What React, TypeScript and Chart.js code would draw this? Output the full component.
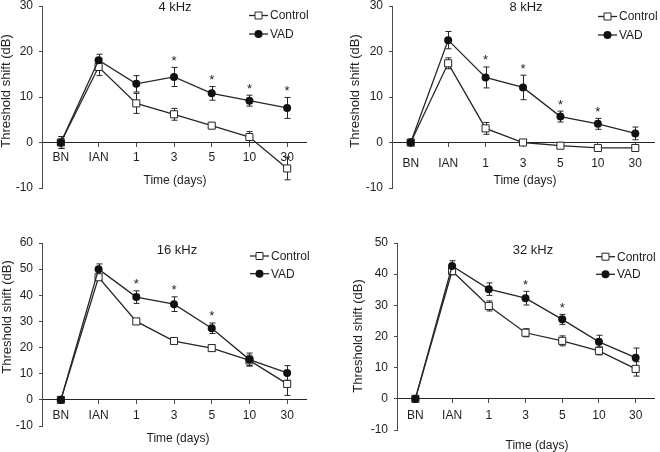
import React, { useEffect, useRef } from "react";
import { Chart, registerables } from "chart.js";

Chart.register(...registerables);

// ---------- data ----------
const categories = ["BN", "IAN", "1", "3", "5", "10", "30"];
const seriesNames = ["Control", "VAD"];
const xAxisTitle = "Time (days)";
const yAxisTitle = "Threshold shift (dB)";

// 4 kHz
const ctl4 = [0, 16.6, 8.6, 6.2, 3.7, 1.2, -5.7];
const ctl4Err = [1.3, 1.9, 2.2, 1.3, 0.4, 1.2, 2.5];
const vad4 = [0, 18.1, 12.9, 14.4, 10.8, 9.2, 7.6];
const vad4Err = [1.3, 1.3, 1.8, 2.1, 1.5, 1.2, 2.3];
const sig4 = [false, false, false, true, true, true, true];

// 8 kHz
const ctl8 = [0, 17.4, 3.1, 0, -0.7, -1.2, -1.2];
const ctl8Err = [0.7, 1.2, 1.3, 0.5, 0.3, 0.3, 0.3];
const vad8 = [0, 22.5, 14.3, 12.1, 5.7, 4.1, 2.0];
const vad8Err = [0.7, 1.9, 2.3, 2.7, 1.2, 1.2, 1.4];
const sig8 = [false, false, true, true, true, true, false];

// 16 kHz
const ctl16 = [0, 46.9, 30.0, 22.5, 19.8, 15.1, 6.1];
const ctl16Err = [0.5, 1.0, 0.5, 0.8, 1.2, 2.0, 4.4];
const vad16 = [0, 50.0, 39.3, 36.6, 27.4, 15.4, 10.3];
const vad16Err = [0.5, 2.0, 2.4, 2.8, 2.0, 2.5, 2.8];
const sig16 = [false, false, true, true, true, false, false];

// 32 kHz
const ctl32 = [0, 41.0, 29.8, 21.2, 18.6, 15.4, 9.6];
const ctl32Err = [1.0, 1.2, 1.6, 1.3, 1.6, 1.3, 2.3];
const vad32 = [0, 42.6, 35.2, 32.3, 25.5, 18.3, 13.2];
const vad32Err = [1.0, 1.7, 2.0, 2.2, 1.6, 2.1, 3.1];
const sig32 = [false, false, false, true, true, false, false];

// ---------- styling ----------
const FONT = "'Liberation Sans', Arial, Helvetica, sans-serif";
const INK = "#1e1e1e";
const LINE = "#262626";
const AXIS = "#4a4a4a";

type Panel = {
  title: string;
  left: number;
  top: number;
  width: number;
  height: number;
  yMin: number;
  yMax: number;
  axisX: number;
  areaTop: number;
  areaBottom: number;
  areaRight: number;
  xTickPad: number;
  ctl: number[];
  ctlErr: number[];
  vad: number[];
  vadErr: number[];
  sig: boolean[];
  titlePos: [number, number];
  legendPos: [number, number, number];
  xTitlePos: [number, number];
  yTitlePos: [number, number];
};

const panels: Panel[] = [
  {
    title: "4 kHz", left: 0, top: 0, width: 330, height: 226,
    yMin: -10, yMax: 30, axisX: 42, areaTop: 5, areaBottom: 188, areaRight: 306, xTickPad: 4,
    ctl: ctl4, ctlErr: ctl4Err, vad: vad4, vadErr: vad4Err, sig: sig4,
    titlePos: [175, 7], legendPos: [249, 15.5, 34], xTitlePos: [175, 181], yTitlePos: [6, 91],
  },
  {
    title: "8 kHz", left: 330, top: 0, width: 330, height: 226,
    yMin: -10, yMax: 30, axisX: 62, areaTop: 5, areaBottom: 188, areaRight: 325, xTickPad: 10,
    ctl: ctl8, ctlErr: ctl8Err, vad: vad8, vadErr: vad8Err, sig: sig8,
    titlePos: [196, 7], legendPos: [268, 16.5, 35], xTitlePos: [195, 181], yTitlePos: [25, 91],
  },
  {
    title: "16 kHz", left: 0, top: 226, width: 330, height: 226,
    yMin: -10, yMax: 60, axisX: 42, areaTop: 17, areaBottom: 200, areaRight: 306, xTickPad: 4.5,
    ctl: ctl16, ctlErr: ctl16Err, vad: vad16, vadErr: vad16Err, sig: sig16,
    titlePos: [177, 24], legendPos: [250, 30, 47.7], xTitlePos: [178, 213], yTitlePos: [7, 91],
  },
  {
    title: "32 kHz", left: 330, top: 226, width: 330, height: 226,
    yMin: -10, yMax: 50, axisX: 67, areaTop: 17, areaBottom: 204, areaRight: 330, xTickPad: 5.5,
    ctl: ctl32, ctlErr: ctl32Err, vad: vad32, vadErr: vad32Err, sig: sig32,
    titlePos: [203, 24], legendPos: [266, 30.7, 48.3], xTitlePos: [207, 220], yTitlePos: [28, 110],
  },
];

function drawSquare(ctx: CanvasRenderingContext2D, x: number, y: number, s: number) {
  ctx.beginPath();
  ctx.rect(x - s / 2, y - s / 2, s, s);
  ctx.fillStyle = "#ffffff";
  ctx.fill();
  ctx.lineWidth = 1;
  ctx.strokeStyle = LINE;
  ctx.stroke();
}

function drawDot(ctx: CanvasRenderingContext2D, x: number, y: number, r: number) {
  ctx.beginPath();
  ctx.arc(x, y, r, 0, Math.PI * 2);
  ctx.fillStyle = "#111111";
  ctx.fill();
}

function makePlugin(p: Panel) {
  return {
    id: "panelDecor",
    beforeDatasetsDraw(chart: any) {
      const ctx: CanvasRenderingContext2D = chart.ctx;
      const ys = chart.scales.y;
      ctx.save();
      ctx.strokeStyle = LINE;
      ctx.lineWidth = 1;
      const sets: [number, number[]][] = [
        [0, p.vadErr],
        [1, p.ctlErr],
      ];
      sets.forEach(([di, errs]) => {
        const meta = chart.getDatasetMeta(di);
        const vals = chart.data.datasets[di].data as number[];
        meta.data.forEach((pt: any, i: number) => {
          const v = vals[i];
          const e = errs[i];
          const x = Math.round(pt.x) + 0.5;
          const yt = ys.getPixelForValue(v + e);
          const yb = ys.getPixelForValue(v - e);
          ctx.beginPath();
          ctx.moveTo(x, yt);
          ctx.lineTo(x, yb);
          ctx.moveTo(x - 3, yt);
          ctx.lineTo(x + 3, yt);
          ctx.moveTo(x - 3, yb);
          ctx.lineTo(x + 3, yb);
          ctx.stroke();
        });
      });
      ctx.restore();
    },
    afterDraw(chart: any) {
      const ctx: CanvasRenderingContext2D = chart.ctx;
      const ys = chart.scales.y;
      ctx.save();
      // significance stars
      const meta = chart.getDatasetMeta(0);
      ctx.fillStyle = INK;
      ctx.font = `13px ${FONT}`;
      ctx.textAlign = "center";
      ctx.textBaseline = "alphabetic";
      meta.data.forEach((pt: any, i: number) => {
        if (!p.sig[i]) return;
        const yt = ys.getPixelForValue(p.vad[i] + p.vadErr[i]);
        ctx.fillText("*", pt.x, yt - 2.5);
      });
      // panel title
      ctx.font = `13px ${FONT}`;
      ctx.textBaseline = "middle";
      ctx.fillText(p.title, p.titlePos[0], p.titlePos[1]);
      // x axis title
      ctx.font = `12px ${FONT}`;
      ctx.fillText(xAxisTitle, p.xTitlePos[0], p.xTitlePos[1]);
      // y axis title
      ctx.save();
      ctx.translate(p.yTitlePos[0], p.yTitlePos[1]);
      ctx.rotate(-Math.PI / 2);
      ctx.font = `13px ${FONT}`;
      ctx.fillText(yAxisTitle, 0, 0);
      ctx.restore();
      // legend
      const [lx, ly1, ly2] = p.legendPos;
      const rows: [number, number][] = [
        [ly1, 0],
        [ly2, 1],
      ];
      rows.forEach(([ly, k]) => {
        ctx.beginPath();
        ctx.strokeStyle = LINE;
        ctx.lineWidth = 1.3;
        ctx.moveTo(lx, ly);
        ctx.lineTo(lx + 19, ly);
        ctx.stroke();
        if (k === 0) drawSquare(ctx, lx + 9.5, ly, 7);
        else drawDot(ctx, lx + 9.5, ly, 4);
        ctx.fillStyle = INK;
        ctx.font = `12px ${FONT}`;
        ctx.textAlign = "left";
        ctx.textBaseline = "middle";
        ctx.fillText(seriesNames[k], lx + 21, ly + 0.5);
      });
      ctx.restore();
    },
  };
}

function PanelChart({ p }: { p: Panel }) {
  const ref = useRef<HTMLCanvasElement>(null);
  useEffect(() => {
    if (!ref.current) return;
    const chart = new Chart(ref.current, {
      type: "line",
      data: {
        labels: categories,
        datasets: [
          {
            label: seriesNames[1],
            data: p.vad,
            borderColor: LINE,
            borderWidth: 1.3,
            tension: 0,
            pointStyle: "circle",
            pointRadius: 4,
            pointBackgroundColor: "#111111",
            pointBorderColor: "#111111",
            pointBorderWidth: 0,
          },
          {
            label: seriesNames[0],
            data: p.ctl,
            borderColor: LINE,
            borderWidth: 1.3,
            tension: 0,
            pointStyle: "rect",
            pointRadius: 5,
            pointBackgroundColor: "#ffffff",
            pointBorderColor: LINE,
            pointBorderWidth: 1,
          },
        ],
      },
      options: {
        animation: false,
        responsive: false,
        maintainAspectRatio: false,
        events: [],
        layout: {
          padding: {
            left: 0,
            top: p.areaTop,
            right: p.width - p.areaRight,
            bottom: p.height - p.areaBottom,
          },
        },
        plugins: {
          legend: { display: false },
          tooltip: { enabled: false },
          title: { display: false },
        },
        scales: {
          x: {
            type: "category",
            axis: "x",
            offset: true,
            position: { y: 0 } as any,
            grid: {
              display: true,
              drawOnChartArea: false,
              drawTicks: true,
              tickLength: 4,
              tickColor: AXIS,
              offset: false,
            },
            border: { display: true, color: LINE, width: 1 },
            ticks: {
              color: INK,
              font: { family: FONT, size: 12, lineHeight: 1.2 },
              padding: p.xTickPad,
              autoSkip: false,
              maxRotation: 0,
              minRotation: 0,
            },
          },
          y: {
            type: "linear",
            min: p.yMin,
            max: p.yMax,
            grid: {
              display: true,
              drawOnChartArea: false,
              drawTicks: true,
              tickLength: 3,
              tickColor: AXIS,
            },
            border: { display: true, color: AXIS, width: 1 },
            ticks: {
              stepSize: 10,
              color: INK,
              font: { family: FONT, size: 12, lineHeight: 1.2 },
              padding: 6,
            },
            afterFit: (s: any) => {
              s.width = p.axisX;
              s.paddingTop = 0;
              s.paddingBottom = 0;
            },
          },
        },
      },
      plugins: [makePlugin(p)],
    } as any);
    return () => chart.destroy();
  }, [p]);
  return (
    <canvas
      ref={ref}
      width={p.width}
      height={p.height}
      style={{ position: "absolute", left: p.left, top: p.top, width: p.width, height: p.height, display: "block" }}
    />
  );
}

export default function App() {
  return (
    <div style={{ position: "absolute", left: 0, top: 0, width: 660, height: 452, background: "#ffffff", overflow: "hidden" }}>
      {panels.map((p) => (
        <PanelChart key={p.title} p={p} />
      ))}
    </div>
  );
}
